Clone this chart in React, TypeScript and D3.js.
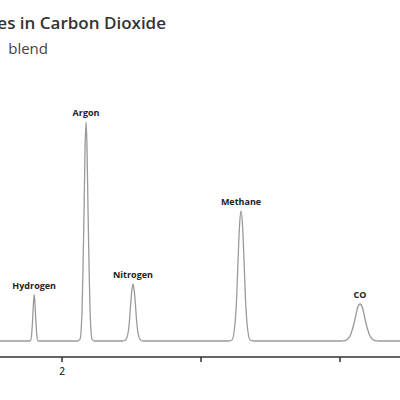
import React from "react";
import * as d3 from "d3";

// Chromatogram trace: retention time (min) vs detector signal
const traceTime: number[] = [
  1.55, 1.772, 1.781, 1.786, 1.791, 1.796, 1.8, 1.804, 1.809, 1.814, 1.819, 1.828,
  2.113, 2.13, 2.144, 2.151, 2.159, 2.166, 2.173, 2.18, 2.187, 2.195, 2.202, 2.216, 2.233,
  2.436, 2.457, 2.475, 2.484, 2.493, 2.502, 2.511, 2.52, 2.529, 2.538, 2.547, 2.565, 2.586,
  3.198, 3.223, 3.245, 3.256, 3.266, 3.277, 3.288, 3.299, 3.31, 3.32, 3.331, 3.353, 3.378,
  4.004, 4.036, 4.072, 4.09, 4.108, 4.126, 4.144, 4.162, 4.18, 4.198, 4.216, 4.252, 4.284,
  4.45,
];
const traceSignal: number[] = [
  0, 0, 6, 15, 28, 41, 46, 41, 28, 15, 6, 0,
  0, 2, 30, 71, 133, 193, 219, 193, 133, 71, 30, 2, 0,
  0, 1, 8, 18, 35, 50, 57, 50, 35, 18, 8, 1, 0,
  0, 1, 18, 42, 79, 115, 130, 115, 79, 42, 18, 1, 0,
  0, 0.4, 5, 12, 22, 33, 37, 33, 22, 12, 5, 0.4, 0,
  0,
];

// Identified peaks
const peakNames: string[] = ["Hydrogen", "Argon", "Nitrogen", "Methane", "CO"];
const peakTimes: number[] = [1.8, 2.173, 2.511, 3.288, 4.144];
const peakHeights: number[] = [46, 219, 57, 130, 37];

// Time axis
const tickValues: number[] = [2, 3, 4];
const tickLabels: string[] = ["2", "", ""];

const titleText = "Impurities in Carbon Dioxide";
const subtitleText = "Calibration\u00a0\u00a0blend";

const W = 400;
const H = 400;

export default function App() {
  const x = d3.scaleLinear().domain([2, 3]).range([62, 201]);
  const y = d3.scaleLinear().domain([0, 250]).range([341, 91]);

  const points: [number, number][] = traceTime.map((t, i) => [t, traceSignal[i]]);
  const line = d3
    .line<[number, number]>()
    .x((d) => x(d[0]))
    .y((d) => y(d[1]))
    .curve(d3.curveMonotoneX);

  const axisY = 357;
  const font = "'Open Sans', 'DejaVu Sans', sans-serif";

  return (
    <svg
      width={W}
      height={H}
      style={{ position: "absolute", left: 0, top: 0, background: "#fff" }}
    >
      <text
        x={166}
        y={29}
        textAnchor="end"
        fontFamily={font}
        fontSize={17}
        fontWeight={600}
        fill="#333"
      >
        {titleText}
      </text>
      <text
        x={48}
        y={54}
        textAnchor="end"
        fontFamily={font}
        fontSize={15}
        fill="#444"
      >
        {subtitleText}
      </text>

      <path
        d={line(points) ?? ""}
        fill="none"
        stroke="#9a9a9a"
        strokeWidth={1.3}
        strokeLinejoin="round"
      />

      {peakNames.map((name, i) => (
        <text
          key={name}
          x={x(peakTimes[i])}
          y={y(peakHeights[i]) - 6.5}
          textAnchor="middle"
          fontFamily={font}
          fontSize={9}
          fontWeight={700}
          fill="#222"
        >
          {name}
        </text>
      ))}

      <line x1={0} x2={W} y1={axisY} y2={axisY} stroke="#333" strokeWidth={1.5} />
      {tickValues.map((v, i) => (
        <g key={v} transform={`translate(${x(v)},${axisY})`}>
          <line y1={0} y2={5} stroke="#333" strokeWidth={1.5} />
          <text
            y={17.5}
            textAnchor="middle"
            fontFamily={font}
            fontSize={10}
            fontWeight={600}
            fill="#333"
          >
            {tickLabels[i]}
          </text>
        </g>
      ))}
    </svg>
  );
}
